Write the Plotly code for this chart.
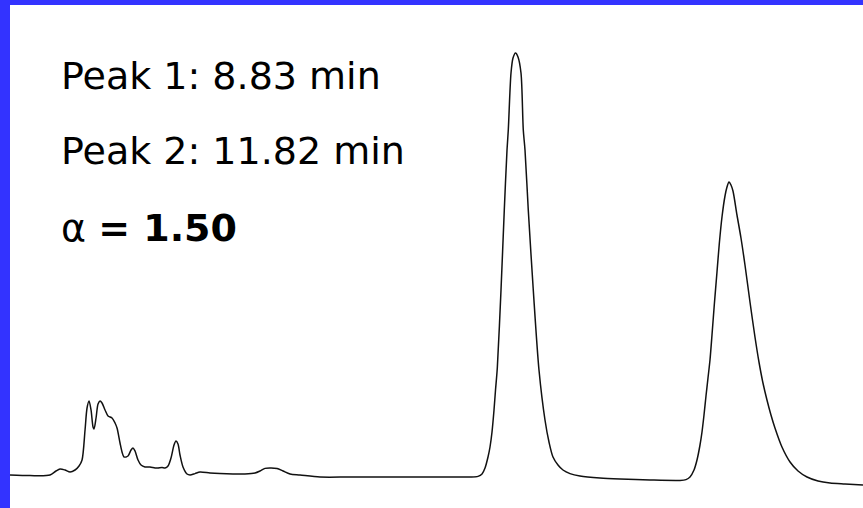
import plotly.graph_objects as go

# Chromatogram trace: retention time (min) vs detector signal (mAU)
time_min = [
    1.750, 2.030, 2.310, 2.394, 2.450, 2.520, 2.591, 2.661, 2.717, 2.759,
    2.801, 2.829, 2.857, 2.885, 2.913, 2.927, 2.955, 2.983, 3.011, 3.039,
    3.081, 3.123, 3.179, 3.221, 3.249, 3.291, 3.319, 3.347, 3.403, 3.445,
    3.473, 3.501, 3.543, 3.585, 3.641, 3.711, 3.781, 3.823, 3.879, 3.921,
    3.963, 4.005, 4.047, 4.075, 4.103, 4.131, 4.173, 4.229, 4.271, 4.341,
    4.411, 4.551, 4.691, 4.873, 5.041, 5.182, 5.252, 5.322, 5.392, 5.490,
    5.574, 5.672, 5.812, 6.092, 6.512, 7.212, 7.773, 8.053, 8.193, 8.305,
    8.361, 8.403, 8.445, 8.473, 8.501, 8.529, 8.550, 8.575, 8.627, 8.673,
    8.711, 8.729, 8.767, 8.795, 8.830, 8.865, 8.907, 8.939, 8.963, 9.009,
    9.079, 9.159, 9.243, 9.299, 9.355, 9.425, 9.495, 9.593, 9.733, 10.013,
    10.294, 10.714, 11.134, 11.218, 11.274, 11.330, 11.372, 11.414, 11.442,
    11.470, 11.498, 11.526, 11.554, 11.582, 11.614, 11.652, 11.684, 11.722,
    11.764, 11.792, 11.820, 11.848, 11.876, 11.932, 11.988, 12.044, 12.114,
    12.184, 12.240, 12.296, 12.352, 12.408, 12.464, 12.562, 12.675, 12.787,
    12.913, 13.067, 13.235, 13.445, 13.697,
]
signal_mau = [
    1.25, 1.1, 1.25, 2.25, 2.75, 2.5, 2.0, 2.5, 3.5, 5.0,
    12.5, 18.0, 19.75, 17.5, 13.25, 12.75, 15.5, 19.0, 19.75, 19.25,
    17.5, 16.0, 15.5, 14.25, 13.0, 9.25, 7.0, 5.75, 6.0, 7.5,
    8.0, 7.25, 5.0, 3.75, 3.25, 3.25, 3.0, 3.0, 3.1, 3.0,
    3.5, 5.5, 8.75, 9.75, 9.0, 6.25, 3.25, 1.5, 1.25, 1.6,
    2.0, 1.75, 1.6, 1.5, 1.5, 1.75, 2.25, 2.9, 3.0, 2.9,
    2.25, 1.5, 1.25, 0.75, 0.75, 0.75, 0.75, 0.75, 0.75, 0.9,
    1.5, 3.0, 5.75, 8.25, 12.0, 17.5, 22.5, 28.0, 47.5, 67.5,
    82.5, 87.5, 101.75, 105.5, 106.75, 105.75, 101.75, 87.5, 82.5, 67.5,
    47.5, 27.5, 15.0, 9.5, 5.75, 3.75, 2.5, 1.6, 1.0, 0.5,
    0.25, 0.0, -0.1, 0.1, 0.75, 2.5, 5.0, 8.75, 12.0,
    16.25, 21.0, 25.5, 30.0, 36.25, 43.75, 52.0, 59.0, 65.75,
    71.0, 73.25, 74.5, 73.75, 72.25, 66.25, 60.5, 53.75, 44.5,
    35.75, 29.5, 24.25, 20.0, 16.25, 13.0, 8.25, 4.5, 2.25,
    0.75, -0.25, -0.75, -1.0, -1.25,
]

label_lines = ["Peak 1: 8.83 min", "Peak 2: 11.82 min", "α <b>= 1.50</b>"]

fig = go.Figure(
    go.Scatter(
        x=time_min,
        y=signal_mau,
        mode="lines",
        line=dict(color="#111111", width=1.5, shape="spline", smoothing=0.8),
        hoverinfo="skip",
    )
)

label_font = dict(family="DejaVu Sans", size=38, color="#000000")
for text, ypos in zip(label_lines, [0.859, 0.710, 0.556]):
    fig.add_annotation(
        text=text, xref="paper", yref="paper", x=0.0578, y=ypos,
        xanchor="left", yanchor="middle", showarrow=False, font=label_font,
    )

fig.update_layout(
    width=863,
    height=508,
    margin=dict(l=10, r=0, t=5, b=0),
    paper_bgcolor="rgb(51,51,255)",
    plot_bgcolor="#ffffff",
    showlegend=False,
    xaxis=dict(range=[1.750, 13.697], visible=False, fixedrange=True),
    yaxis=dict(range=[-7, 118.75], visible=False, fixedrange=True),
)

fig.write_html("out.html", config={"displayModeBar": False})
